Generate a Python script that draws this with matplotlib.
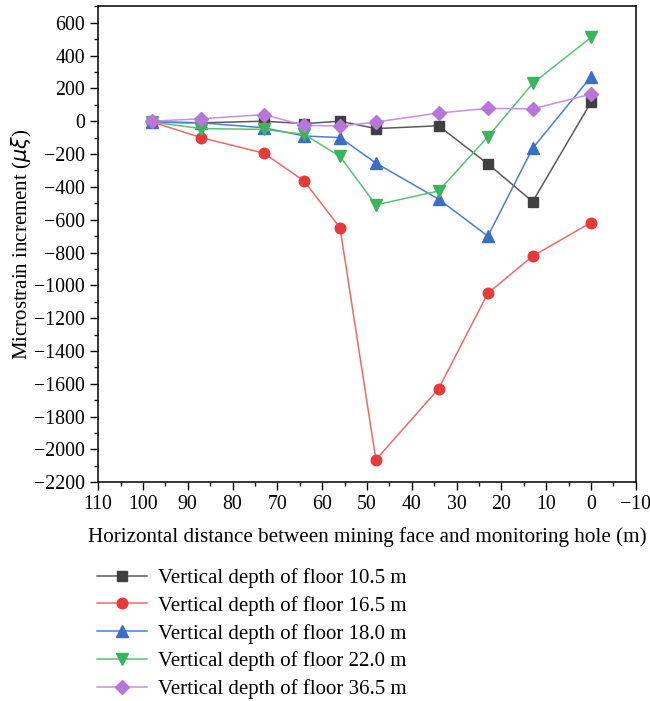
import matplotlib
matplotlib.use('Agg')
import matplotlib.pyplot as plt
from matplotlib.ticker import MultipleLocator

plt.rcParams['font.family'] = ['Liberation Serif', 'DejaVu Serif']

# distance between mining face and monitoring hole (m)
dist = [98, 87, 73, 64, 56, 48, 34, 23, 13, 0]

d105 = [-5, -10, 0, -15, 0, -45, -28, -260, -490, 115]
d165 = [-5, -100, -195, -365, -650, -2063, -1630, -1048, -822, -618]
d180 = [-5, -10, -40, -90, -100, -255, -475, -700, -165, 270]
d220 = [-5, -45, -50, -80, -215, -510, -425, -95, 230, 510]
d365 = [0, 15, 40, -25, -30, -5, 50, 78, 75, 165]

labels = ['Vertical depth of floor 10.5 m', 'Vertical depth of floor 16.5 m',
          'Vertical depth of floor 18.0 m', 'Vertical depth of floor 22.0 m',
          'Vertical depth of floor 36.5 m']

fig = plt.figure(figsize=(6.5, 7.01), dpi=100)
ax = fig.add_axes([0.151, 0.312, 0.827, 0.679])

series = [d105, d165, d180, d220, d365]
markers = ['s', 'o', '^', 'v', 'D']
mcol = ['#404040', '#e8393a', '#3a6fc4', '#3cb55a', '#b877d8']
lcol = ['#5a5a5a', '#f06868', '#4a7fd0', '#5cc078', '#c890e0']
msize = [6.8, 7.6, 8, 8, 6.8]

for y, m, mc, lc, ms, lab in zip(series, markers, mcol, lcol, msize, labels):
    ax.plot(dist, y, color=lc, lw=1.1, marker=m, ms=ms, mfc=mc, mec=mc, label=lab)

ax.set_xlim(110, -10)
ax.set_ylim(-2200, 700)
ax.xaxis.set_major_locator(MultipleLocator(10))
ax.xaxis.set_minor_locator(MultipleLocator(5))
ax.yaxis.set_minor_locator(MultipleLocator(100))
ax.set_yticks(range(-2200, 601, 200))
ax.tick_params(which='major', direction='out', length=6, width=1, labelsize=14.3)
ax.tick_params(which='minor', direction='out', length=3, width=1)
for s in ax.spines.values():
    s.set_linewidth(1.1)

ax.set_xlabel('Horizontal distance between mining face and monitoring hole (m)', fontsize=15.2, labelpad=9)
ax.set_ylabel(r'Microstrain increment ($\mu\xi$)', fontsize=15, labelpad=0)

ax.legend(loc='upper left', bbox_to_anchor=(97 / 650, 1 - 568 / 701),
          bbox_transform=fig.transFigure, frameon=False, borderpad=0, borderaxespad=0,
          fontsize=15, handlelength=2.4, labelspacing=0.38, handletextpad=0.55)

fig.savefig('out.png', dpi=100)
